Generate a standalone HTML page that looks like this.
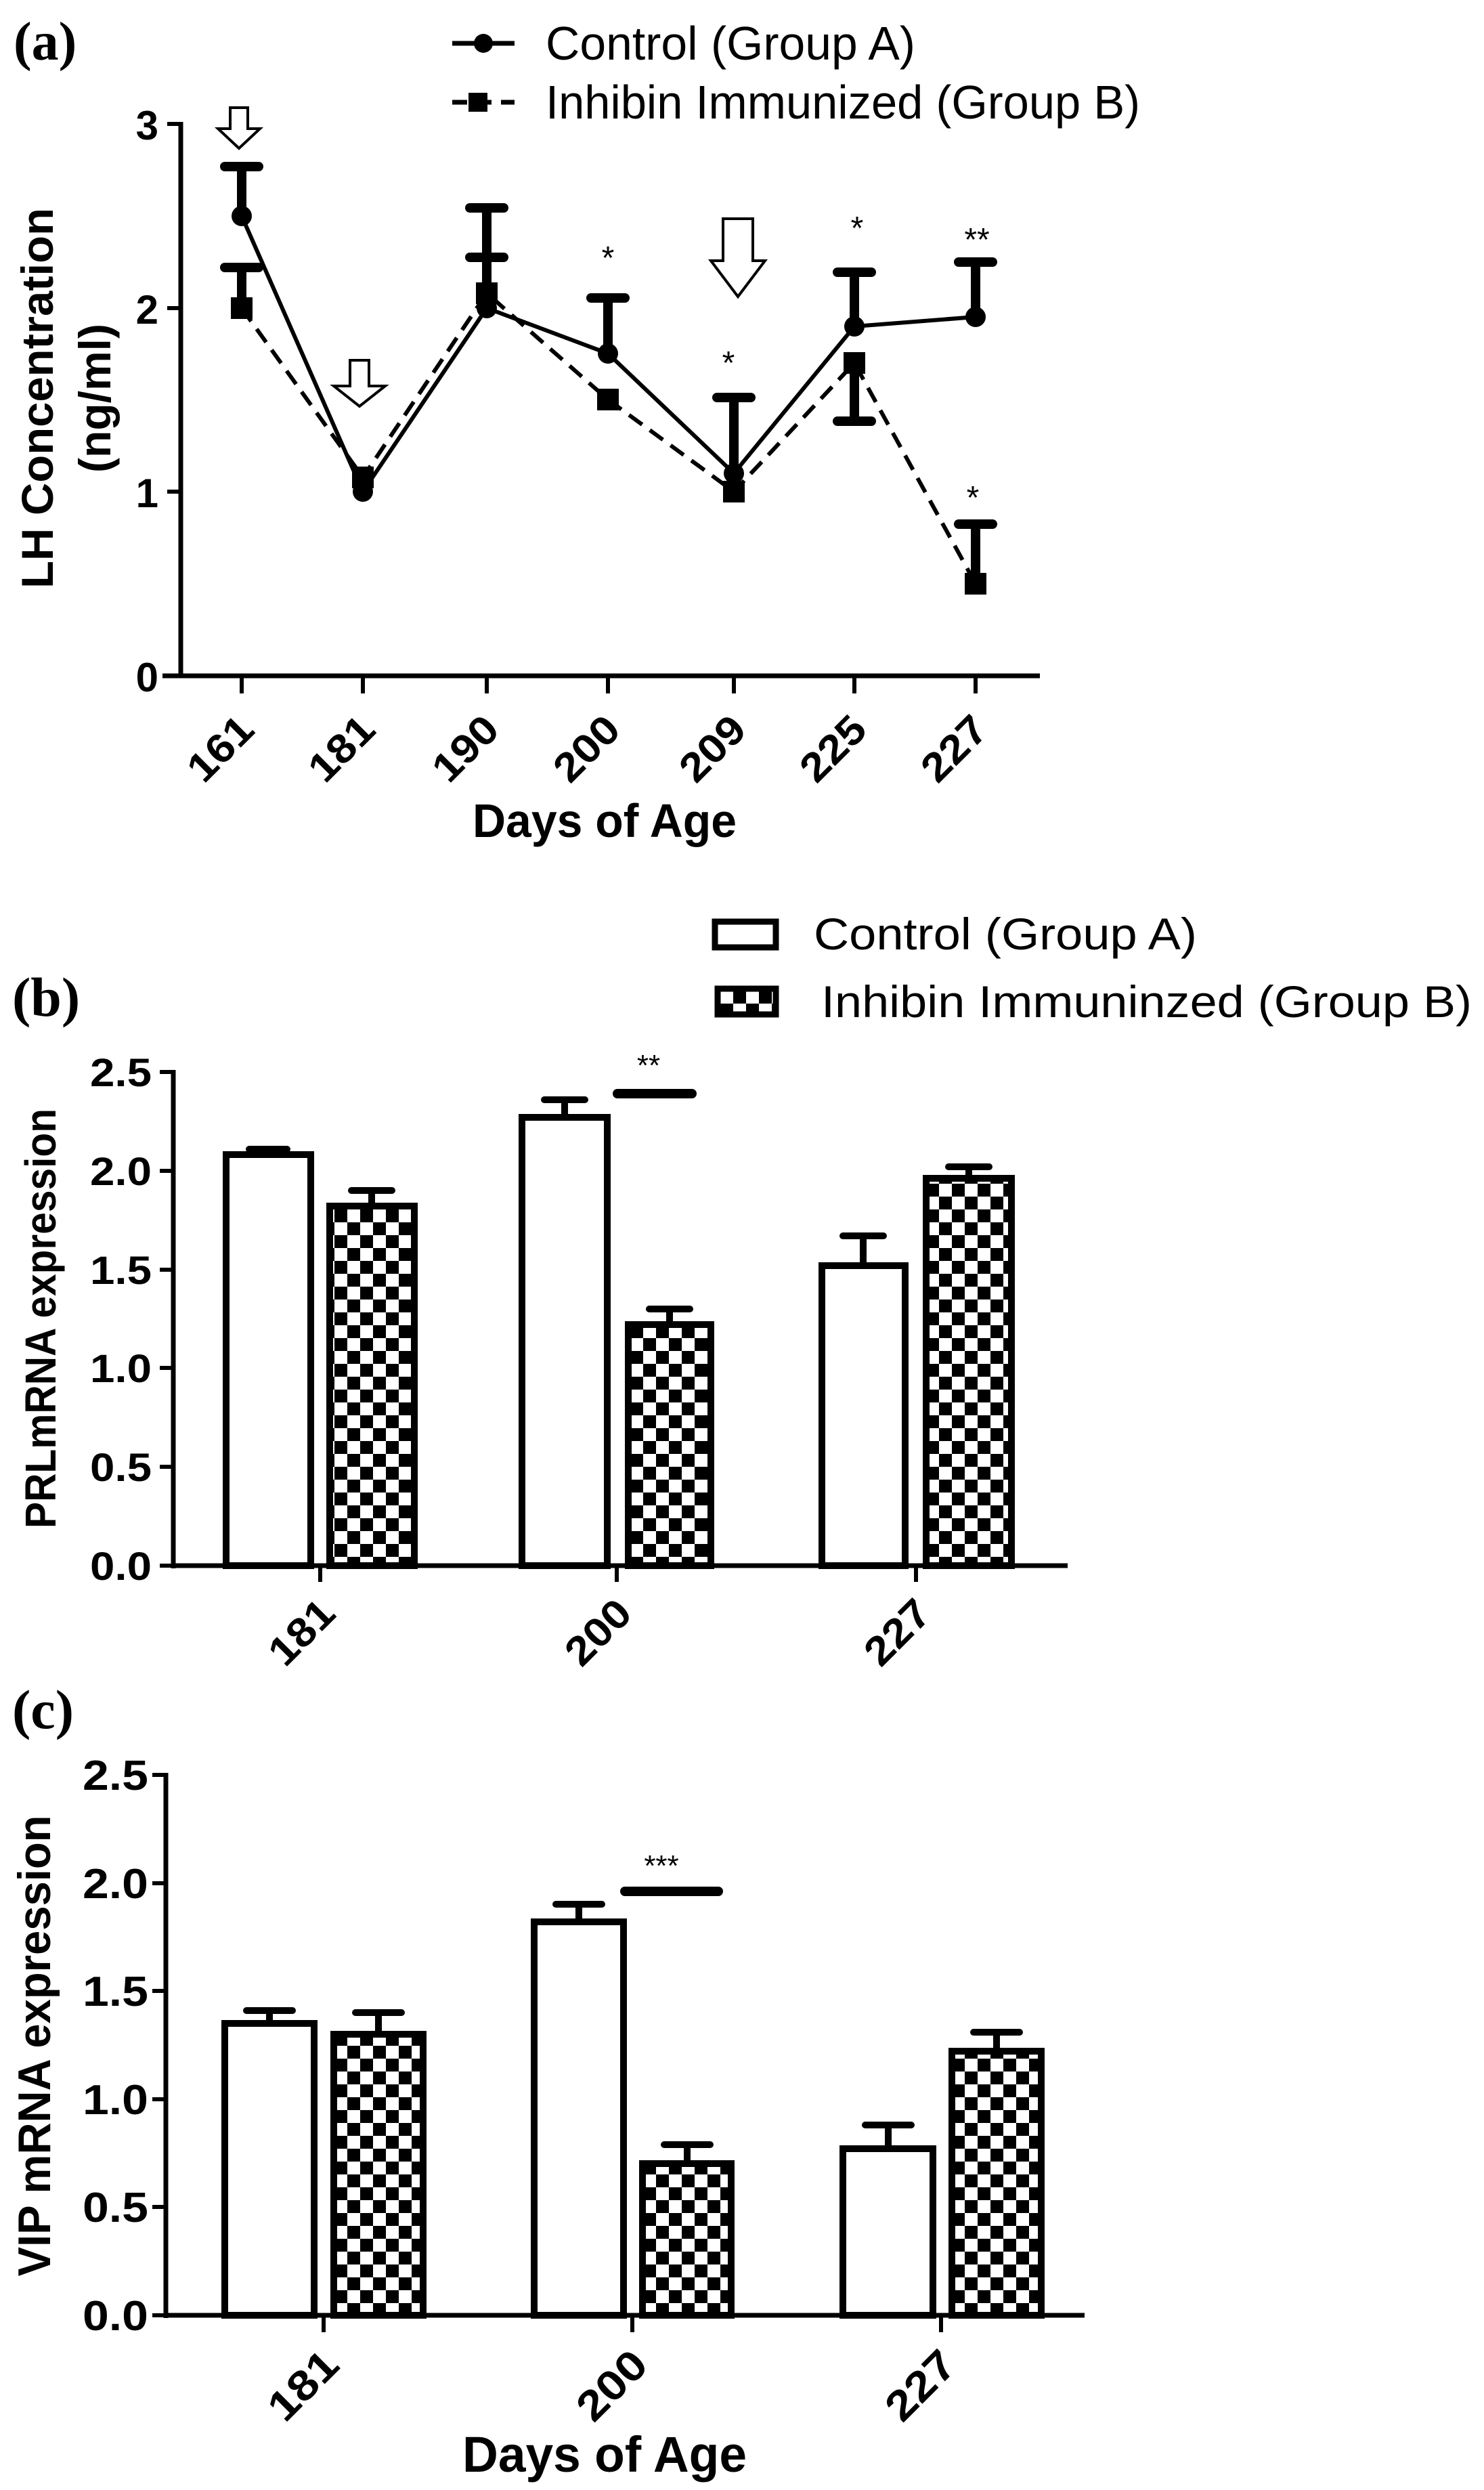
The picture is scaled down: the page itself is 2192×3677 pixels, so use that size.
<!DOCTYPE html>
<html><head><meta charset="utf-8"><style>
html,body{margin:0;padding:0;background:#fff;}
svg{display:block;}
text{font-family:"Liberation Sans",Arial,sans-serif;fill:#000;}
.b{font-weight:bold;}
</style></head><body>
<svg width="2192" height="3677" viewBox="0 0 2192 3677" xmlns="http://www.w3.org/2000/svg">
<defs>
<pattern id="chk" width="38" height="38" patternUnits="userSpaceOnUse">
<rect width="38" height="38" fill="#fff"/>
<rect x="0" y="0" width="19" height="19" fill="#000"/>
<rect x="19" y="19" width="19" height="19" fill="#000"/>
</pattern>
</defs>

<!-- ============ (a) ============ -->
<text x="20" y="88" font-weight="bold" font-size="80" style="font-family:'Liberation Serif',serif">(a)</text>
<line x1="668" y1="64" x2="760" y2="64" stroke="#000" stroke-width="7"/>
<circle cx="714" cy="64" r="14" fill="#000"/>
<text x="806" y="88" font-size="70" textLength="546" lengthAdjust="spacingAndGlyphs">Control (Group A)</text>
<line x1="668" y1="151" x2="760" y2="151" stroke="#000" stroke-width="7" stroke-dasharray="22,14"/>
<rect x="692" y="137" width="28" height="28" fill="#000"/>
<text x="806" y="175" font-size="70" textLength="878" lengthAdjust="spacingAndGlyphs">Inhibin Immunized (Group B)</text>

<line x1="267" y1="180" x2="267" y2="1001" stroke="#000" stroke-width="7"/>
<line x1="240" y1="998" x2="1536" y2="998" stroke="#000" stroke-width="7"/>
<g stroke="#000" stroke-width="6">
<line x1="247" y1="726" x2="267" y2="726"/>
<line x1="247" y1="455" x2="267" y2="455"/><line x1="247" y1="183" x2="267" y2="183"/>
<line x1="357" y1="998" x2="357" y2="1024"/><line x1="536" y1="998" x2="536" y2="1024"/>
<line x1="719" y1="998" x2="719" y2="1024"/><line x1="898" y1="998" x2="898" y2="1024"/>
<line x1="1084" y1="998" x2="1084" y2="1024"/><line x1="1262" y1="998" x2="1262" y2="1024"/>
<line x1="1441" y1="998" x2="1441" y2="1024"/>
</g>
<g class="b" font-size="60" text-anchor="end">
<text x="234" y="1021">0</text><text x="234" y="749">1</text><text x="234" y="478">2</text><text x="234" y="206">3</text>
</g>
<g class="b" font-size="60" text-anchor="middle">
<text transform="translate(325,1105) rotate(-45)" y="21" textLength="110" lengthAdjust="spacingAndGlyphs">161</text>
<text transform="translate(504,1105) rotate(-45)" y="21" textLength="110" lengthAdjust="spacingAndGlyphs">181</text>
<text transform="translate(687,1105) rotate(-45)" y="21" textLength="110" lengthAdjust="spacingAndGlyphs">190</text>
<text transform="translate(866,1105) rotate(-45)" y="21" textLength="110" lengthAdjust="spacingAndGlyphs">200</text>
<text transform="translate(1052,1105) rotate(-45)" y="21" textLength="110" lengthAdjust="spacingAndGlyphs">209</text>
<text transform="translate(1230,1105) rotate(-45)" y="21" textLength="110" lengthAdjust="spacingAndGlyphs">225</text>
<text transform="translate(1409,1105) rotate(-45)" y="21" textLength="110" lengthAdjust="spacingAndGlyphs">227</text>
</g>
<text class="b" x="893" y="1236" font-size="70" text-anchor="middle" textLength="390" lengthAdjust="spacingAndGlyphs">Days of Age</text>
<text class="b" transform="translate(78,588) rotate(-90)" font-size="66" text-anchor="middle" textLength="562" lengthAdjust="spacingAndGlyphs">LH Concentration</text>
<text class="b" transform="translate(163,588) rotate(-90)" font-size="66" text-anchor="middle">(ng/ml)</text>

<polyline points="357,455 536,705 719,433 898,590 1084,726 1262,536 1441,862" fill="none" stroke="#000" stroke-width="6" stroke-dasharray="24,14"/>
<polyline points="357,319 536,726 719,455 898,522 1084,699 1262,482 1441,468" fill="none" stroke="#000" stroke-width="6"/>
<g stroke="#000" stroke-width="14" stroke-linecap="round">
<line x1="357" y1="319" x2="357" y2="246"/><line x1="332" y1="246" x2="382" y2="246"/>
<line x1="357" y1="455" x2="357" y2="395"/><line x1="332" y1="395" x2="382" y2="395"/>
<line x1="719" y1="455" x2="719" y2="307"/><line x1="694" y1="307" x2="744" y2="307"/>
<line x1="694" y1="380" x2="744" y2="380"/>
<line x1="898" y1="522" x2="898" y2="440"/><line x1="873" y1="440" x2="923" y2="440"/>
<line x1="1084" y1="699" x2="1084" y2="587"/><line x1="1059" y1="587" x2="1109" y2="587"/>
<line x1="1262" y1="482" x2="1262" y2="402"/><line x1="1237" y1="402" x2="1287" y2="402"/>
<line x1="1262" y1="536" x2="1262" y2="622"/><line x1="1237" y1="622" x2="1287" y2="622"/>
<line x1="1441" y1="468" x2="1441" y2="387"/><line x1="1416" y1="387" x2="1466" y2="387"/>
<line x1="1441" y1="862" x2="1441" y2="774"/><line x1="1416" y1="774" x2="1466" y2="774"/>
</g>
<g fill="#000">
<circle cx="357" cy="319" r="15"/><circle cx="536" cy="726" r="15"/><circle cx="719" cy="455" r="15"/>
<circle cx="898" cy="522" r="15"/><circle cx="1084" cy="699" r="15"/><circle cx="1262" cy="482" r="15"/><circle cx="1441" cy="468" r="15"/>
<rect x="341" y="439" width="32" height="32"/><rect x="520" y="689" width="32" height="32"/>
<rect x="703" y="417" width="32" height="32"/><rect x="882" y="574" width="32" height="32"/>
<rect x="1068" y="710" width="32" height="32"/><rect x="1246" y="520" width="32" height="32"/>
<rect x="1425" y="846" width="32" height="32"/>
</g>
<g fill="#fff" stroke="#000" stroke-width="4">
<polygon points="340,159 366,159 366,190 384,190 353,219 322,190 340,190"/>
<polygon points="517,532 545,532 545,570 569,570 531,600 493,570 517,570"/>
<polygon points="1068,323 1112,323 1112,385 1130,385 1090,438 1050,385 1068,385"/>
</g>
<g font-size="48" text-anchor="middle">
<text x="898" y="397">*</text><text x="1076" y="552">*</text><text x="1266" y="353">*</text>
<text x="1443" y="370">**</text><text x="1437" y="751">*</text>
</g>

<!-- ============ (b) ============ -->
<text x="18" y="1500" font-weight="bold" font-size="82" style="font-family:'Liberation Serif',serif">(b)</text>
<rect x="1056" y="1361" width="90" height="38" fill="#fff" stroke="#000" stroke-width="9"/>
<text x="1202" y="1402" font-size="66" textLength="566" lengthAdjust="spacingAndGlyphs">Control (Group A)</text>
<rect x="1060" y="1460" width="86" height="38" fill="url(#chk)" stroke="#000" stroke-width="9"/>
<text x="1213" y="1502" font-size="66" textLength="961" lengthAdjust="spacingAndGlyphs">Inhibin Immuninzed (Group B)</text>

<line x1="256" y1="1580" x2="256" y2="2316" stroke="#000" stroke-width="7"/>
<line x1="253" y1="2312" x2="1577" y2="2312" stroke="#000" stroke-width="7"/>
<g stroke="#000" stroke-width="6">
<line x1="236" y1="2312" x2="256" y2="2312"/><line x1="236" y1="2166" x2="256" y2="2166"/>
<line x1="236" y1="2020" x2="256" y2="2020"/><line x1="236" y1="1875" x2="256" y2="1875"/>
<line x1="236" y1="1729" x2="256" y2="1729"/><line x1="236" y1="1583" x2="256" y2="1583"/>
<line x1="473" y1="2312" x2="473" y2="2336"/><line x1="911" y1="2312" x2="911" y2="2336"/><line x1="1353" y1="2312" x2="1353" y2="2336"/>
</g>
<g class="b" font-size="58" text-anchor="end">
<text x="224" y="2333" textLength="91" lengthAdjust="spacingAndGlyphs">0.0</text>
<text x="224" y="2187" textLength="91" lengthAdjust="spacingAndGlyphs">0.5</text>
<text x="224" y="2041" textLength="91" lengthAdjust="spacingAndGlyphs">1.0</text>
<text x="224" y="1896" textLength="91" lengthAdjust="spacingAndGlyphs">1.5</text>
<text x="224" y="1750" textLength="91" lengthAdjust="spacingAndGlyphs">2.0</text>
<text x="224" y="1604" textLength="91" lengthAdjust="spacingAndGlyphs">2.5</text>
</g>
<g class="b" font-size="60" text-anchor="middle">
<text transform="translate(445,2410) rotate(-45)" y="21" textLength="110" lengthAdjust="spacingAndGlyphs">181</text>
<text transform="translate(883,2410) rotate(-45)" y="21" textLength="110" lengthAdjust="spacingAndGlyphs">200</text>
<text transform="translate(1325,2410) rotate(-45)" y="21" textLength="110" lengthAdjust="spacingAndGlyphs">227</text>
</g>
<text class="b" transform="translate(82,1947) rotate(-90)" font-size="64" text-anchor="middle" textLength="620" lengthAdjust="spacingAndGlyphs">PRLmRNA expression</text>
<g stroke="#000" stroke-width="10" stroke-linecap="round">
<line x1="396" y1="1705" x2="396" y2="1697"/><line x1="368" y1="1697" x2="424" y2="1697"/>
<line x1="549" y1="1781" x2="549" y2="1758"/><line x1="519" y1="1758" x2="579" y2="1758"/>
<line x1="834" y1="1650" x2="834" y2="1624"/><line x1="804" y1="1624" x2="864" y2="1624"/>
<line x1="989" y1="1956" x2="989" y2="1933"/><line x1="959" y1="1933" x2="1019" y2="1933"/>
<line x1="1275" y1="1869" x2="1275" y2="1825"/><line x1="1245" y1="1825" x2="1305" y2="1825"/>
<line x1="1431" y1="1740" x2="1431" y2="1723"/><line x1="1401" y1="1723" x2="1461" y2="1723"/>
</g>
<g stroke="#000" stroke-width="10">
<rect x="334" y="1705" width="125" height="607" fill="#fff"/>
<rect x="487" y="1781" width="125" height="531" fill="url(#chk)"/>
<rect x="771" y="1650" width="126" height="662" fill="#fff"/>
<rect x="928" y="1956" width="122" height="356" fill="url(#chk)"/>
<rect x="1214" y="1869" width="123" height="443" fill="#fff"/>
<rect x="1368" y="1740" width="126" height="572" fill="url(#chk)"/>
</g>
<line x1="912" y1="1615" x2="1022" y2="1615" stroke="#000" stroke-width="14" stroke-linecap="round"/>
<text x="958" y="1588" font-size="44" text-anchor="middle">**</text>

<!-- ============ (c) ============ -->
<text x="18" y="2552" font-weight="bold" font-size="82" style="font-family:'Liberation Serif',serif">(c)</text>
<line x1="245" y1="2618" x2="245" y2="3423" stroke="#000" stroke-width="7"/>
<line x1="242" y1="3419" x2="1602" y2="3419" stroke="#000" stroke-width="7"/>
<g stroke="#000" stroke-width="6">
<line x1="225" y1="3419" x2="245" y2="3419"/><line x1="225" y1="3259" x2="245" y2="3259"/>
<line x1="225" y1="3100" x2="245" y2="3100"/><line x1="225" y1="2940" x2="245" y2="2940"/>
<line x1="225" y1="2781" x2="245" y2="2781"/><line x1="225" y1="2621" x2="245" y2="2621"/>
<line x1="478" y1="3419" x2="478" y2="3444"/><line x1="934" y1="3419" x2="934" y2="3444"/><line x1="1390" y1="3419" x2="1390" y2="3444"/>
</g>
<g class="b" font-size="62" text-anchor="end">
<text x="219" y="3441" textLength="97" lengthAdjust="spacingAndGlyphs">0.0</text>
<text x="219" y="3281" textLength="97" lengthAdjust="spacingAndGlyphs">0.5</text>
<text x="219" y="3122" textLength="97" lengthAdjust="spacingAndGlyphs">1.0</text>
<text x="219" y="2962" textLength="97" lengthAdjust="spacingAndGlyphs">1.5</text>
<text x="219" y="2803" textLength="97" lengthAdjust="spacingAndGlyphs">2.0</text>
<text x="219" y="2643" textLength="97" lengthAdjust="spacingAndGlyphs">2.5</text>
</g>
<g class="b" font-size="62" text-anchor="middle">
<text transform="translate(447,3522) rotate(-45)" y="22" textLength="118" lengthAdjust="spacingAndGlyphs">181</text>
<text transform="translate(903,3522) rotate(-45)" y="22" textLength="118" lengthAdjust="spacingAndGlyphs">200</text>
<text transform="translate(1359,3522) rotate(-45)" y="22" textLength="118" lengthAdjust="spacingAndGlyphs">227</text>
</g>
<text class="b" x="893" y="3650" font-size="74" text-anchor="middle" textLength="420" lengthAdjust="spacingAndGlyphs">Days of Age</text>
<text class="b" transform="translate(74,3021) rotate(-90)" font-size="68" text-anchor="middle" textLength="681" lengthAdjust="spacingAndGlyphs">VIP mRNA expression</text>
<g stroke="#000" stroke-width="10" stroke-linecap="round">
<line x1="398" y1="2988" x2="398" y2="2969"/><line x1="364" y1="2969" x2="432" y2="2969"/>
<line x1="559" y1="3004" x2="559" y2="2972"/><line x1="525" y1="2972" x2="593" y2="2972"/>
<line x1="855" y1="2838" x2="855" y2="2812"/><line x1="821" y1="2812" x2="889" y2="2812"/>
<line x1="1015" y1="3195" x2="1015" y2="3167"/><line x1="981" y1="3167" x2="1049" y2="3167"/>
<line x1="1312" y1="3173" x2="1312" y2="3138"/><line x1="1278" y1="3138" x2="1346" y2="3138"/>
<line x1="1472" y1="3029" x2="1472" y2="3001"/><line x1="1438" y1="3001" x2="1506" y2="3001"/>
</g>
<g stroke="#000" stroke-width="10">
<rect x="332" y="2988" width="132" height="431" fill="#fff"/>
<rect x="493" y="3004" width="132" height="415" fill="url(#chk)"/>
<rect x="789" y="2838" width="132" height="581" fill="#fff"/>
<rect x="949" y="3195" width="131" height="224" fill="url(#chk)"/>
<rect x="1245" y="3173" width="133" height="246" fill="#fff"/>
<rect x="1406" y="3029" width="132" height="390" fill="url(#chk)"/>
</g>
<line x1="923" y1="2793" x2="1061" y2="2793" stroke="#000" stroke-width="14" stroke-linecap="round"/>
<text x="977" y="2770" font-size="44" text-anchor="middle">***</text>
</svg>
</body></html>
